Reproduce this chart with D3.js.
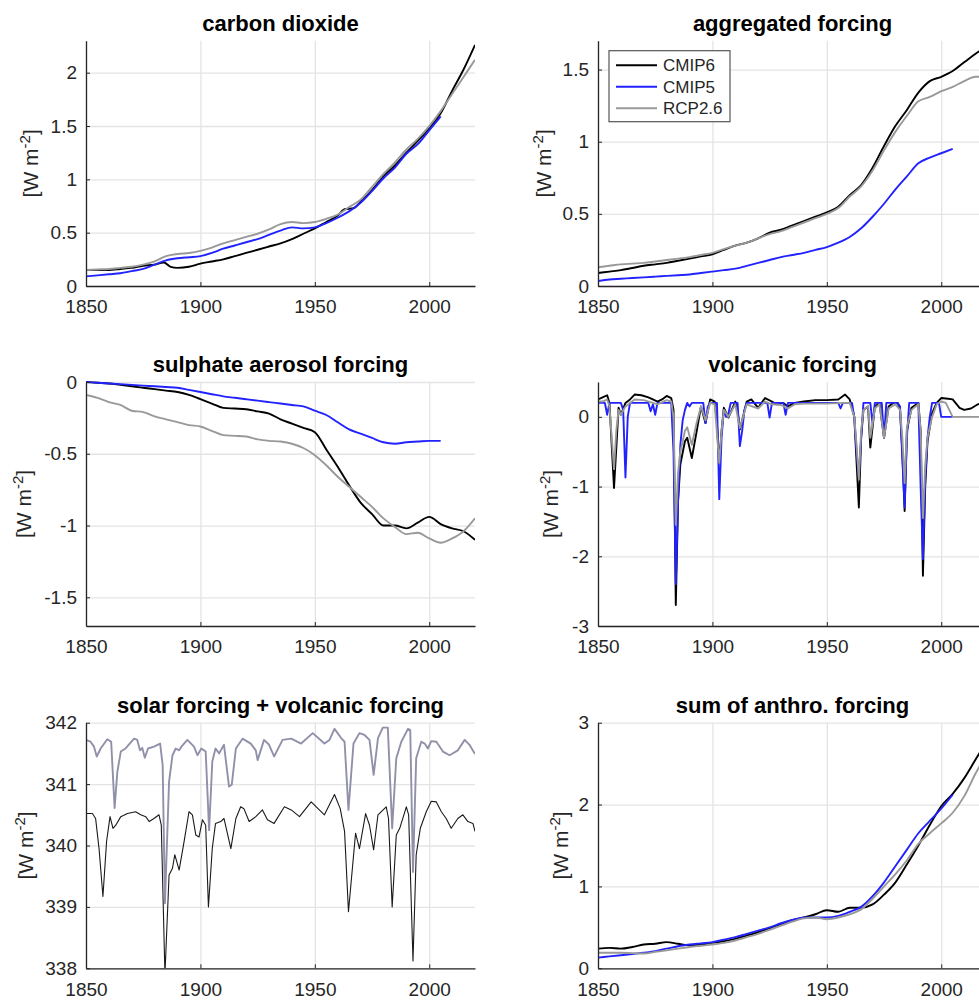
<!DOCTYPE html>
<html>
<head>
<meta charset="utf-8">
<script src="https://cdn.jsdelivr.net/npm/d3@7"></script>
<style>
  body { margin: 0; background: #fff; }
  svg { display: block; }
  text { font-family: "Liberation Sans", Helvetica, Arial, sans-serif; }
</style>
</head>
<body>
<div id="chart"></div>
<script>
// ---- shared ----
const xTicks = [1850, 1900, 1950, 2000];
const xDomain = [1850, 2020];
const seriesNames = ["CMIP6", "CMIP5", "RCP2.6"];
const seriesColors = ["#000000", "#2222ff", "#999999"];

// 5-year grids
const years5to2020 = [1850,1855,1860,1865,1870,1875,1880,1885,1890,1895,1900,1905,1910,1915,1920,1925,1930,1935,1940,1945,1950,1955,1960,1965,1970,1975,1980,1985,1990,1995,2000,2005,2010,2015,2020];
const years5to2005 = [1850,1855,1860,1865,1870,1875,1880,1885,1890,1895,1900,1905,1910,1915,1920,1925,1930,1935,1940,1945,1950,1955,1960,1965,1970,1975,1980,1985,1990,1995,2000,2005];

// carbon dioxide
const co2YearsCmip6 = [1850,1855,1860,1865,1870,1875,1880,1884,1887,1890,1895,1900,1905,1910,1915,1920,1925,1930,1935,1940,1945,1950,1955,1960,1963,1967,1970,1975,1980,1985,1990,1995,2000,2005,2010,2015,2020];
const co2Cmip6 = [.15,.15,.15,.16,.17,.19,.20,.22,.18,.17,.18,.21,.23,.25,.28,.31,.34,.37,.40,.44,.49,.54,.60,.66,.72,.73,.79,.90,1.03,1.13,1.25,1.36,1.48,1.62,1.83,2.03,2.26];
const co2Cmip5 = [.09,.10,.11,.12,.14,.16,.20,.24,.26,.27,.28,.31,.35,.38,.41,.44,.48,.52,.55,.54,.55,.59,.64,.70,.78,.89,1.01,1.11,1.24,1.33,1.46,1.59];
const co2Rcp = [.15,.155,.16,.17,.18,.20,.23,.28,.30,.31,.33,.36,.40,.43,.46,.49,.53,.58,.60,.59,.60,.63,.67,.74,.81,.93,1.05,1.16,1.28,1.38,1.50,1.64,1.80,1.96,2.12];

// aggregated forcing
const aggCmip6 = [.09,.10,.11,.125,.14,.15,.16,.175,.19,.205,.22,.25,.28,.30,.33,.37,.39,.42,.45,.48,.51,.55,.63,.70,.82,.97,1.11,1.22,1.34,1.42,1.45,1.49,1.55,1.61,1.66];
const aggCmip5 = [.035,.045,.05,.055,.06,.065,.07,.075,.08,.09,.10,.11,.12,.14,.16,.18,.20,.215,.23,.25,.27,.30,.34,.40,.48,.57,.67,.76,.85,.89,.92,.95];
const aggRcp = [.13,.14,.15,.155,.16,.17,.18,.19,.20,.215,.23,.255,.28,.30,.33,.36,.38,.41,.44,.47,.50,.54,.62,.69,.80,.94,1.07,1.18,1.28,1.31,1.35,1.38,1.42,1.45,1.45];

// sulphate aerosol forcing
const sulCmip6 = [0,-.005,-.01,-.02,-.03,-.04,-.05,-.06,-.07,-.09,-.12,-.15,-.18,-.185,-.19,-.205,-.22,-.26,-.29,-.32,-.35,-.47,-.59,-.72,-.84,-.92,-1.00,-1.00,-1.02,-.98,-.94,-.99,-1.02,-1.04,-1.10];
const sulCmip5 = [0,-.005,-.01,-.015,-.02,-.025,-.03,-.035,-.04,-.055,-.07,-.085,-.10,-.11,-.12,-.13,-.14,-.15,-.16,-.17,-.20,-.23,-.28,-.33,-.36,-.39,-.42,-.43,-.42,-.415,-.41,-.41];
const sulRcp = [-.09,-.11,-.14,-.16,-.20,-.21,-.24,-.26,-.28,-.30,-.31,-.34,-.37,-.375,-.38,-.40,-.41,-.415,-.43,-.46,-.51,-.58,-.66,-.73,-.80,-.87,-.95,-1.01,-1.06,-1.05,-1.09,-1.12,-1.09,-1.04,-.95];

// volcanic forcing
const volcYearsCmip6 = [1850,1852,1854,1855,1857,1859,1860,1862,1864,1866,
  1869,1872,1874,1876,1878,1880,1882,1883,1884,1885,
  1886,1888,1889,1891,1893,1895,1897,1899,1901,1902,
  1903,1904,1905,1907,1910,1911,1912,1913,1915,1917,
  1920,1923,1926,1928,1931,1933,1936,1940,1945,1950,
  1955,1958,1960,1962,1964,1965,1966,1968,1969,1971,
  1973,1975,1977,1979,1981,1982,1983,1984,1985,1987,
  1990,1991,1992,1993,1994,1996,1998,2000,2003,2005,
  2008,2010,2013,2016,2020];
const volcCmip6 = [0.25,0.28,0.31,0.20,-1.02,0.13,0.03,0.20,0.25,0.32,
  0.31,0.28,0.25,0.22,0.25,0.30,0.27,0.10,-2.70,-1.20,
  -0.68,-0.35,-0.30,-0.59,-0.23,0.15,-0.09,0.25,0.22,-0.10,
  -0.66,-0.20,0.13,-0.01,0.22,0.10,-0.18,-0.05,0.22,0.25,
  0.13,0.27,0.22,0.18,0.20,0.15,0.20,0.22,0.24,0.24,
  0.25,0.32,0.25,0.00,-1.30,-0.30,0.10,0.15,-0.44,0.15,
  0.20,-0.30,0.15,0.20,0.20,0.10,-0.50,-1.35,-0.20,0.13,
  0.20,-0.20,-2.28,-1.00,-0.35,0.05,0.20,0.27,0.26,0.25,
  0.13,0.10,0.12,0.18,0.22];
const volcYearsCmip5 = [1850,1853,1854,1855,1860,1861,1862,1863,1864,1872,
  1873,1874,1875,1876,1882,1883,1884,1885,1886,1887,
  1888,1889,1890,1891,1896,1897,1898,1899,1902,1903,
  1904,1905,1906,1907,1908,1911,1912,1913,1914,1915,
  1924,1925,1926,1931,1932,1933,1955,1956,1957,1961,
  1962,1963,1964,1965,1966,1969,1970,1971,1974,1975,
  1976,1981,1982,1983,1984,1985,1986,1990,1991,1992,
  1993,1994,1995,1996,1999,2000,2005];
const volcCmip5 = [0.20,0.20,0.03,0.20,0.20,0.10,-0.87,0.00,0.20,0.20,
  0.08,0.18,0.03,0.20,0.20,-0.50,-2.40,-1.20,-0.40,-0.05,
  0.10,0.20,0.15,0.20,0.20,-0.09,0.15,0.20,0.20,-1.18,
  -0.30,0.10,0.00,0.05,0.20,0.20,-0.42,-0.20,0.10,0.20,
  0.20,-0.01,0.20,0.20,0.03,0.20,0.20,0.12,0.20,0.20,
  0.00,-0.50,-0.87,-0.30,0.20,0.20,-0.10,0.20,0.20,-0.30,
  0.20,0.20,0.15,-0.60,-1.30,-0.30,0.20,0.20,-1.00,-2.04,
  -0.90,-0.30,0.00,0.20,0.20,0.00,0.00];
const volcYearsRcp = [1850,1852,1854,1855,1857,1858,1859,1860,1862,1864,
  1866,1870,1874,1876,1880,1882,1883,1884,1885,1886,
  1888,1889,1891,1893,1895,1897,1899,1901,1903,1904,
  1905,1907,1910,1912,1913,1915,1920,1923,1926,1930,
  1933,1936,1940,1950,1958,1960,1962,1963,1964,1965,
  1966,1968,1969,1971,1973,1975,1977,1980,1982,1983,
  1984,1985,1987,1990,1991,1992,1993,1994,1996,1998,
  2000,2002,2005,2020];
const volcRcp = [0.22,0.22,0.25,0.15,-0.75,-0.20,0.10,0.03,0.15,0.20,
  0.25,0.24,0.20,0.18,0.24,0.22,0.00,-1.55,-0.80,-0.50,
  -0.20,-0.15,-0.40,-0.10,0.15,-0.05,0.20,0.18,-0.66,-0.20,
  0.10,0.00,0.18,-0.16,-0.05,0.18,0.12,0.22,0.18,0.17,
  0.12,0.18,0.19,0.19,0.20,0.20,0.00,-0.40,-0.90,-0.20,
  0.10,0.15,-0.30,0.12,0.18,-0.30,0.12,0.18,0.10,-0.30,
  -0.95,-0.15,0.10,0.18,-0.20,-1.45,-0.70,-0.30,0.00,0.18,
  0.22,0.20,0.00,0.00];

// solar forcing + volcanic forcing
const solarYearsUpper = [1850,1852,1853.5,1854.7,1856.4,1859.3,1861,1862.5,1863.7,1865.2,
  1867.3,1871,1872.4,1873.6,1874.6,1875.7,1877.1,1879.7,1882.4,1883.5,
  1884.5,1886.3,1887.8,1889.2,1890.7,1891.7,1894.3,1897.2,1898.7,1900.4,
  1902.3,1903.8,1905.2,1906.6,1908.2,1910.3,1912.5,1913.7,1915.5,1918.4,
  1922,1924.2,1925,1927.8,1930,1932.2,1935.9,1939.7,1944,1949.1,
  1954.2,1956.4,1958.6,1961.5,1963,1964.7,1966.9,1969.5,1971.7,1973.9,
  1975.7,1977.6,1979.7,1981.9,1983.8,1985.6,1987.8,1990.7,1991.7,1992.9,
  1994.3,1996.5,1998,1999.4,2000.9,2003.1,2006,2008.9,2012.5,2015.5,
  2017.6,2020];
const solarUpper = [341.72,341.69,341.61,341.45,341.58,341.73,341.69,340.61,341.20,341.53,
  341.58,341.74,341.72,341.55,341.59,341.43,341.58,341.61,341.66,341.31,
  339.06,341.04,341.47,341.58,341.55,341.61,341.72,341.61,341.47,341.58,
  341.53,340.25,341.37,341.58,341.50,341.64,340.96,340.99,341.58,341.74,
  341.66,341.55,341.39,341.72,341.64,341.45,341.72,341.74,341.66,341.83,
  341.66,341.72,341.90,341.75,341.69,340.58,341.66,341.83,341.80,341.72,
  341.15,341.75,341.92,341.92,340.28,341.42,341.69,341.90,341.88,339.57,
  341.42,341.69,341.66,341.58,341.70,341.69,341.53,341.47,341.55,341.72,
  341.64,341.49];
const solarYearsLower = [1850,1852.8,1854.2,1855.7,1857.4,1859,1860.5,1861.8,1863,1865.2,
  1868.1,1871.7,1873.9,1876.1,1877.6,1879.7,1881.9,1882.9,1884.5,1886.3,
  1887.8,1888.8,1890.7,1892.9,1895,1896.5,1898,1899.4,1900.9,1902.3,
  1903.5,1905.2,1906.6,1908.9,1910.3,1913.3,1915.5,1917.6,1919,1921.3,
  1924.2,1927.1,1929.3,1932.2,1936.7,1939.7,1943.3,1948.4,1954.2,1958.6,
  1961.1,1963,1964.7,1967.8,1969.5,1972.2,1973.9,1975.7,1977.6,1981.2,
  1982.2,1983.8,1985.6,1987.1,1990,1991,1992.9,1994.3,1996.1,1998.7,
  2000.9,2003.1,2005.3,2007.4,2009.6,2012.5,2014.7,2016.9,2019.1,2020];
const solarLower = [340.52,340.52,340.44,339.95,339.17,340.07,340.47,340.28,340.33,340.47,
  340.52,340.55,340.50,340.47,340.39,340.44,340.50,340.33,337.90,339.52,
  339.63,339.85,339.60,340.07,340.55,340.50,340.17,340.14,340.42,340.33,
  339.00,339.96,340.36,340.39,340.44,339.95,340.44,340.63,340.60,340.39,
  340.47,340.58,340.42,340.36,340.63,340.58,340.47,340.71,340.50,340.83,
  340.60,340.23,338.92,340.20,339.95,340.52,340.33,339.93,340.50,340.63,
  340.44,339.00,340.17,340.28,340.63,340.50,338.12,339.85,340.28,340.55,
  340.72,340.71,340.55,340.44,340.28,340.44,340.50,340.39,340.36,340.23];

// sum of anthropogenic forcing
const sumCmip6 = [.24,.25,.24,.26,.29,.30,.32,.30,.28,.29,.31,.33,.36,.40,.44,.49,.54,.59,.62,.66,.71,.69,.74,.74,.78,.90,1.05,1.27,1.50,1.75,1.98,2.13,2.32,2.55,2.78];
const sumCmip5 = [.13,.145,.16,.175,.19,.21,.24,.27,.29,.305,.32,.35,.38,.42,.46,.50,.55,.59,.62,.62,.62,.64,.69,.75,.88,1.05,1.25,1.45,1.65,1.80,1.95,2.12];
const sumRcp = [.19,.19,.19,.185,.18,.20,.22,.24,.26,.275,.29,.31,.34,.38,.42,.47,.52,.57,.61,.62,.60,.62,.66,.72,.85,1.00,1.15,1.32,1.52,1.65,1.77,1.90,2.10,2.38,2.62];

// ---- layout ----
const W = 979, H = 1001;
const colX = [86, 598], plotW = 389;
const rowTop = [40.7, 382, 722.7], rowBottom = [286, 626, 968.3];
const axisColor = "#262626", gridColor = "#e4e4e4";

const std = (years, values, i) => ({ pts: d3.zip(years, values), color: seriesColors[i], width: 1.9 });

const panels = [
  { title: "carbon dioxide", col: 0, row: 0, yDomain: [0, 2.3], yTicks: [0, 0.5, 1, 1.5, 2], ylab: -48, smooth: true,
    series: [std(co2YearsCmip6, co2Cmip6, 0), std(years5to2005, co2Cmip5, 1), std(years5to2020, co2Rcp, 2)] },
  { title: "aggregated forcing", col: 1, row: 0, yDomain: [0, 1.7], yTicks: [0, 0.5, 1, 1.5], ylab: -47, smooth: true, legend: true,
    series: [std(years5to2020, aggCmip6, 0), std(years5to2005, aggCmip5, 1), std(years5to2020, aggRcp, 2)] },
  { title: "sulphate aerosol forcing", col: 0, row: 1, yDomain: [-1.7, 0], yTicks: [-1.5, -1, -0.5, 0], ylab: -55, smooth: true,
    series: [std(years5to2020, sulCmip6, 0), std(years5to2005, sulCmip5, 1), std(years5to2020, sulRcp, 2)] },
  { title: "volcanic forcing", col: 1, row: 1, yDomain: [-3, 0.5], yTicks: [-3, -2, -1, 0], ylab: -40, smooth: false,
    series: [std(volcYearsCmip6, volcCmip6, 0), std(volcYearsCmip5, volcCmip5, 1), std(volcYearsRcp, volcRcp, 2)] },
  { title: "solar forcing + volcanic forcing", col: 0, row: 2, yDomain: [338, 342], yTicks: [338, 339, 340, 341, 342], ylab: -53, smooth: false,
    series: [
      { pts: d3.zip(solarYearsLower, solarLower), color: "#1a1a1a", width: 1.1 },
      { pts: d3.zip(solarYearsUpper, solarUpper), color: "#9090aa", width: 1.9 }
    ] },
  { title: "sum of anthro. forcing", col: 1, row: 2, yDomain: [0, 3], yTicks: [0, 1, 2, 3], ylab: -30, smooth: true,
    series: [std(years5to2020, sumCmip6, 0), std(years5to2005, sumCmip5, 1), std(years5to2020, sumRcp, 2)] }
];

const svg = d3.select("#chart").append("svg")
  .attr("width", W).attr("height", H)
  .style("background", "#fff");

const fmt = v => String(v);

panels.forEach((p, idx) => {
  const x0 = colX[p.col], x1 = x0 + plotW;
  const yTop = rowTop[p.row], yBot = rowBottom[p.row];
  const x = d3.scaleLinear().domain(xDomain).range([x0, x1]);
  const y = d3.scaleLinear().domain(p.yDomain).range([yBot, yTop]);
  const g = svg.append("g");

  // grid
  g.append("g").attr("transform", `translate(0,${yBot})`)
    .call(d3.axisBottom(x).tickValues(xTicks).tickSize(-(yBot - yTop)).tickFormat(""))
    .call(s => s.select(".domain").remove())
    .call(s => s.selectAll("line").attr("stroke", gridColor).attr("stroke-width", 1.3));
  g.append("g").attr("transform", `translate(${x0},0)`)
    .call(d3.axisLeft(y).tickValues(p.yTicks).tickSize(-(x1 - x0)).tickFormat(""))
    .call(s => s.select(".domain").remove())
    .call(s => s.selectAll("line").attr("stroke", gridColor).attr("stroke-width", 1.3));

  // data lines
  const clipId = "clip" + idx;
  svg.append("clipPath").attr("id", clipId).append("rect")
    .attr("x", x0).attr("y", yTop - 1).attr("width", x1 - x0).attr("height", yBot - yTop + 1);
  const line = d3.line().x(d => x(d[0])).y(d => y(d[1]))
    .curve(p.smooth ? d3.curveMonotoneX : d3.curveLinear);
  g.append("g").attr("clip-path", `url(#${clipId})`)
    .selectAll("path").data(p.series).join("path")
    .attr("d", s => line(s.pts))
    .attr("fill", "none")
    .attr("stroke", s => s.color)
    .attr("stroke-width", s => s.width)
    .attr("stroke-linejoin", "round");

  // axes
  const xa = g.append("g").attr("transform", `translate(0,${yBot})`)
    .call(d3.axisBottom(x).tickValues(xTicks).tickFormat(fmt).tickSizeInner(-4).tickSizeOuter(0).tickPadding(14));
  const ya = g.append("g").attr("transform", `translate(${x0},0)`)
    .call(d3.axisLeft(y).tickValues(p.yTicks).tickFormat(fmt).tickSizeInner(-4).tickSizeOuter(0).tickPadding(9));
  [xa, ya].forEach(a => {
    a.attr("font-size", 19).attr("font-family", null);
    a.select(".domain").attr("stroke", axisColor).attr("stroke-width", 1.3);
    a.selectAll(".tick line").attr("stroke", axisColor).attr("stroke-width", 1);
    a.selectAll(".tick text").attr("fill", axisColor);
  });

  // title
  g.append("text")
    .attr("x", (x0 + x1) / 2).attr("y", yTop - 10)
    .attr("text-anchor", "middle")
    .attr("font-size", 22).attr("font-weight", "bold").attr("fill", "#000")
    .text(p.title);

  // y label
  const yl = g.append("text")
    .attr("transform", `translate(${x0 + p.ylab},${(yTop + yBot) / 2}) rotate(-90)`)
    .attr("text-anchor", "middle")
    .attr("font-size", 21).attr("fill", axisColor);
  yl.append("tspan").text("[W m");
  yl.append("tspan").attr("dy", -8).attr("font-size", 15).text("-2");
  yl.append("tspan").attr("dy", 8).text("]");

  // legend
  if (p.legend) {
    const lx = x0 + 11, ly = yTop + 10;
    const lg = g.append("g").attr("transform", `translate(${lx},${ly})`);
    lg.append("rect").attr("width", 121).attr("height", 71)
      .attr("fill", "#fff").attr("stroke", "#555").attr("stroke-width", 1.2);
    const rows = lg.selectAll("g.item").data(seriesNames).join("g")
      .attr("class", "item")
      .attr("transform", (d, i) => `translate(0,${14.5 + i * 21.5})`);
    rows.append("line").attr("x1", 7).attr("x2", 48)
      .attr("stroke", (d, i) => seriesColors[i]).attr("stroke-width", 1.9);
    rows.append("text").attr("x", 54).attr("dy", "0.35em")
      .attr("font-size", 17).attr("fill", axisColor).text(d => d);
  }
});
</script>
</body>
</html>
